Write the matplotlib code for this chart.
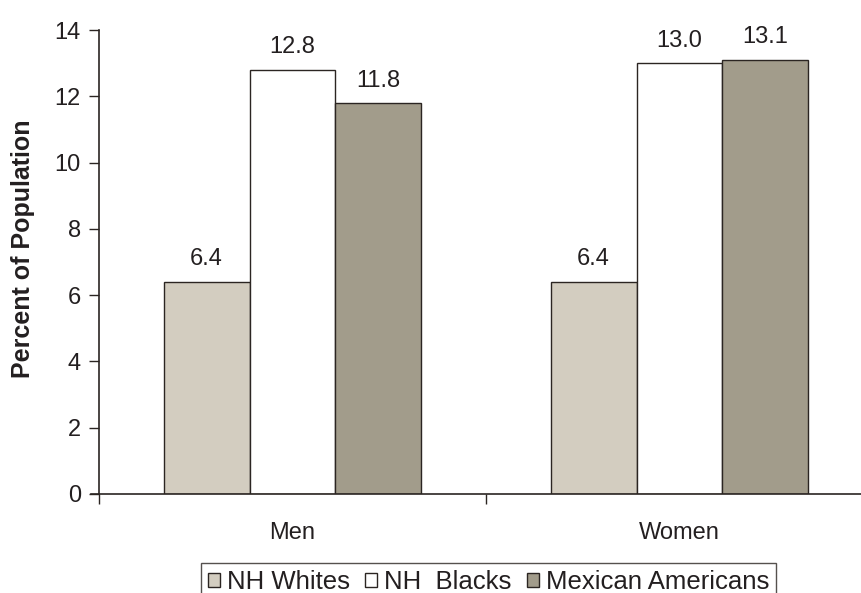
import numpy as np
import matplotlib.pyplot as plt

plt.rcParams['font.family'] = ['Liberation Sans', 'DejaVu Sans']

##################   Data  #########################

groups = ['Men', 'Women']
series = ['NH Whites', 'NH  Blacks', 'Mexican Americans']
whites = [6.4, 6.4]
blacks = [12.8, 13.0]
mexican = [11.8, 13.1]
yticks = [0, 2, 4, 6, 8, 10, 12, 14]

colors = ['#d3cdc0', '#ffffff', '#a29c8b']
edge = '#2b2522'
txt = '#231f20'
fs = 17

###############   Plot data    ########################

fig = plt.figure(figsize=(8.62, 5.93), dpi=100)
ax = fig.add_axes([0.1148, 0.167, 0.8980, 0.782])

x = np.arange(len(groups))
w = 0.222
for i, (vals, c, lab) in enumerate(zip([whites, blacks, mexican], colors, series)):
    pos = x + (i - 1) * w
    ax.bar(pos, vals, width=w, color=c, edgecolor=edge, linewidth=1.0, label=lab)
    for p, v in zip(pos, vals):
        ax.text(p, v + 0.35, '%.1f' % v, ha='center', va='bottom', fontsize=fs, color=txt)

ax.set_xlim(-0.5, 1.5)
ax.set_ylim(0, 14)
ax.set_yticks(yticks)
ax.set_yticklabels([str(t) for t in yticks], fontsize=fs, color=txt)
ax.set_xticks([-0.5, 0.5, 1.5])
ax.set_xticklabels([])
ax.set_xticks(x, minor=True)
ax.set_xticklabels(groups, minor=True, fontsize=fs, color=txt)
ax.tick_params(axis='x', which='minor', length=0, pad=20)
ax.tick_params(axis='x', which='major', length=7, width=1, color=edge, direction='out')
ax.tick_params(axis='y', length=7, width=1, color=edge, direction='out', pad=6)

for s in ['top', 'right']:
    ax.spines[s].set_visible(False)
for s in ['left', 'bottom']:
    ax.spines[s].set_color(edge)
    ax.spines[s].set_linewidth(1.2)
ax.spines['bottom'].set_bounds(-0.52, 1.5)

ax.set_ylabel('Percent of Population', fontsize=18, fontweight='bold', color=txt)
ax.yaxis.set_label_coords(-0.083, 0.528)

leg = fig.legend(loc='upper center', bbox_to_anchor=(0.5667, 0.0506), ncol=3,
                 fontsize=18.5, frameon=True, fancybox=False, edgecolor=edge,
                 handlelength=0.47, handleheight=0.47, handletextpad=0.27,
                 columnspacing=0.6, borderpad=0.27, borderaxespad=0)
leg.get_frame().set_linewidth(1.0)
for t in leg.get_texts():
    t.set_color(txt)

plt.savefig('out.png', dpi=100)
